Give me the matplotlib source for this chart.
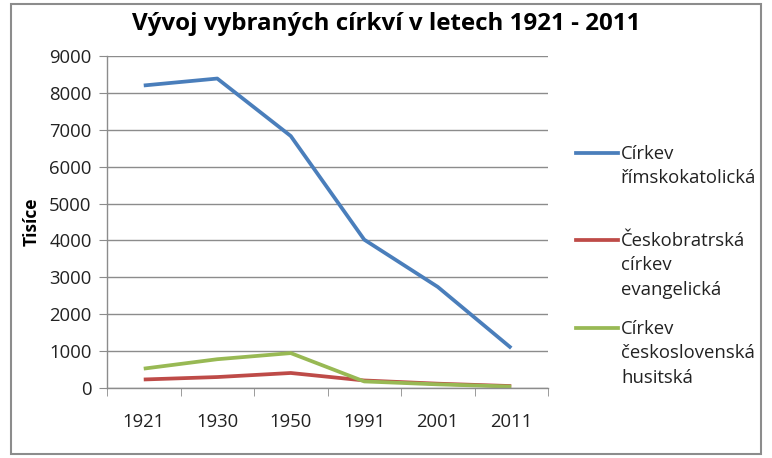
import numpy as np
import matplotlib.pyplot as plt
from matplotlib.lines import Line2D

# data (thousands of members)
years = ['1921', '1930', '1950', '1991', '2001', '2011']
rimskokatolicka = [8201, 8389, 6831, 4021, 2741, 1083]
evangelicka = [231, 297, 407, 204, 117, 52]
husitska = [525, 780, 946, 178, 99, 39]

series_names = ['Církev\nřímskokatolická',
                'Českobratrská\ncírkev\nevangelická',
                'Církev\nčeskoslovenská\nhusitská']
series_colors = ['#4A7EBB', '#BE4B48', '#98B954']

plt.rcParams['font.family'] = ['Open Sans', 'DejaVu Sans']

fig = plt.figure(figsize=(7.72, 4.58), dpi=100)
ax = fig.add_axes([107 / 772, 1 - 388 / 458, 441 / 772, 332 / 458])

x = np.arange(len(years))
for vals, col in zip([rimskokatolicka, evangelicka, husitska], series_colors):
    ax.plot(x, vals, color=col, lw=2.7, solid_capstyle='butt', solid_joinstyle='round')

ax.set_xlim(-0.5, len(years) - 0.5)
ax.set_ylim(0, 9000)
ax.set_yticks(range(0, 9001, 1000))
ax.yaxis.grid(True, color='#8c8c8c', lw=1)
ax.set_axisbelow(True)

ax.set_xticks(x)
ax.set_xticklabels(years)
ax.set_xticks(np.arange(-0.5, len(years)), minor=True)
ax.tick_params(axis='x', which='major', length=0, pad=18, labelsize=13.3)
ax.tick_params(axis='x', which='minor', length=6, color='#8c8c8c', direction='out')
ax.tick_params(axis='y', length=6, color='#8c8c8c', labelsize=13.3, pad=5)
for lab in ax.get_xticklabels() + ax.get_yticklabels():
    lab.set_color('#222222')

for s in ['top', 'right']:
    ax.spines[s].set_visible(False)
for s in ['left', 'bottom']:
    ax.spines[s].set_color('#8c8c8c')
    ax.spines[s].set_linewidth(1)

ax.set_ylabel('Tisíce', fontsize=12.5, fontweight='bold', labelpad=6)

fig.text(386 / 772, 1 - 24 / 458, 'Vývoj vybraných církví v letech 1921 - 2011',
         ha='center', va='center', fontsize=17.4, fontweight='bold')

# legend
leg_y = [153, 240, 328]
for name, col, yy in zip(series_names, series_colors, leg_y):
    fy = 1 - yy / 458
    fig.add_artist(Line2D([576 / 772, 618 / 772], [fy, fy], color=col, lw=2.7,
                          transform=fig.transFigure))
    fig.text(621 / 772, 1 - (yy - 8) / 458, name, ha='left', va='top',
             fontsize=13.3, color='#222222', linespacing=1.45)

# outer frame
fig.add_artist(plt.Rectangle((11 / 772, 1 - 454 / 458), 750 / 772, 450 / 458,
                             transform=fig.transFigure, fill=False,
                             edgecolor='#8c8c8c', lw=1.5))

fig.savefig('out.png', dpi=100)
